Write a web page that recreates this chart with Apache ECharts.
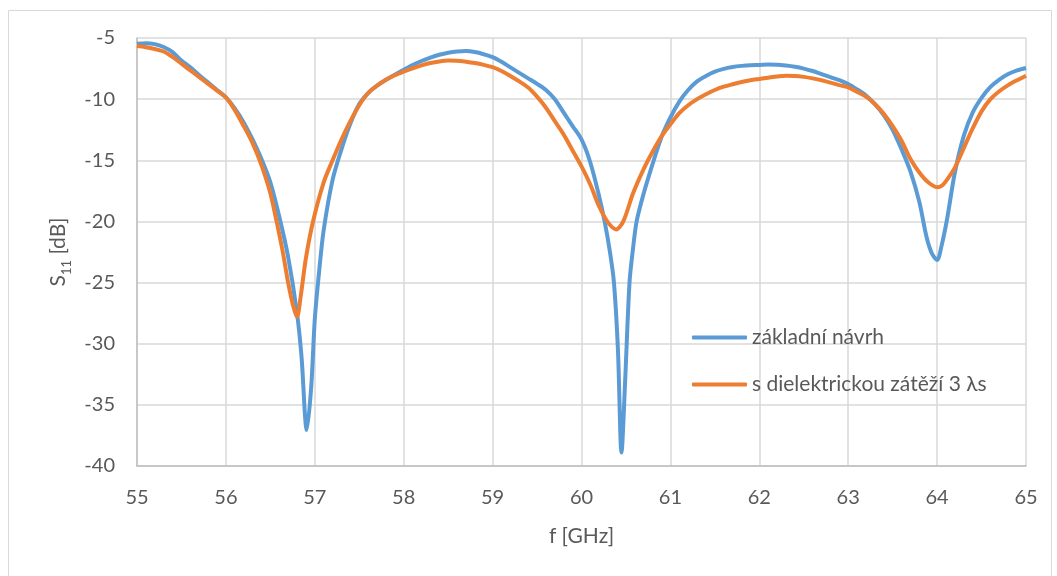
<!DOCTYPE html>
<html>
<head>
<meta charset="utf-8">
<script src="https://cdn.jsdelivr.net/npm/echarts@6/dist/echarts.min.js"></script>
<style>
  html, body { margin: 0; padding: 0; background: #ffffff; }
  #chart { width: 1057px; height: 576px; }
</style>
</head>
<body>
<div id="chart"></div>
<script>
// Frequency axis ticks (GHz) and S11 axis range (dB)
const freqTicks = [55, 56, 57, 58, 59, 60, 61, 62, 63, 64, 65];
const s11Range = { min: -40, max: -5, step: 5 };

// Series names
const seriesNames = ['základní návrh', 's dielektrickou zátěží 3 λs'];

// Basic design: frequency points (GHz) and S11 (dB)
const freqBase = [
  55.0, 55.1, 55.2, 55.3, 55.4, 55.5, 55.6, 55.7, 55.8, 55.9,
  56.0, 56.1, 56.2, 56.3, 56.4, 56.5, 56.6, 56.7, 56.8, 56.85, 56.91, 56.96,
  57.0, 57.05, 57.1, 57.2, 57.3, 57.4, 57.5, 57.6, 57.7, 57.8, 57.9,
  58.0, 58.1, 58.2, 58.3, 58.4, 58.5, 58.6, 58.7, 58.8, 58.9,
  59.0, 59.1, 59.2, 59.3, 59.4, 59.5, 59.6, 59.7, 59.8, 59.9,
  60.0, 60.1, 60.2, 60.26, 60.32, 60.365, 60.41, 60.45, 60.49, 60.54, 60.58, 60.62, 60.7, 60.8, 60.9,
  61.0, 61.1, 61.2, 61.3, 61.4, 61.5, 61.6, 61.7, 61.8, 61.9,
  62.0, 62.1, 62.2, 62.3, 62.4, 62.5, 62.6, 62.7, 62.8, 62.9,
  63.0, 63.1, 63.2, 63.3, 63.4, 63.5, 63.6, 63.7, 63.8, 63.88, 63.94,
  64.0, 64.05, 64.11, 64.2, 64.3, 64.4, 64.5, 64.6, 64.7, 64.8, 64.9, 65.0
];
const s11Base = [
  -5.47, -5.42, -5.5, -5.74, -6.15, -6.85, -7.4, -8.05, -8.65, -9.25,
  -9.86, -10.75, -11.9, -13.3, -14.9, -16.8, -19.6, -22.9, -27.5, -31.0, -37.05, -33.5,
  -28.0, -24.0, -20.7, -16.6, -14.1, -12.0, -10.4, -9.5, -8.9, -8.42, -8.0,
  -7.6, -7.22, -6.88, -6.6, -6.37, -6.2, -6.1, -6.07, -6.15, -6.33,
  -6.57, -6.95, -7.4, -7.85, -8.3, -8.75, -9.25, -10.0, -11.1, -12.2,
  -13.3, -15.2, -18.0, -20.0, -22.5, -25.0, -30.5, -38.9, -33.2, -25.0, -22.2, -20.0, -17.7, -15.3, -13.1,
  -11.5, -10.2, -9.25, -8.55, -8.1, -7.75, -7.52, -7.37, -7.28, -7.22,
  -7.2, -7.17, -7.18, -7.25, -7.35, -7.5, -7.7, -7.95, -8.2, -8.45,
  -8.76, -9.2, -9.7, -10.4, -11.3, -12.5, -14.1, -15.9, -18.4, -21.24, -22.6,
  -23.16, -22.0, -19.9, -16.0, -13.0, -11.1, -9.9, -9.0, -8.4, -7.95, -7.65, -7.45
];

// Design with dielectric load 3 λs
const freqLoad = [
  55.0, 55.1, 55.2, 55.3, 55.4, 55.5, 55.6, 55.7, 55.8, 55.9,
  56.0, 56.1, 56.2, 56.3, 56.4, 56.5, 56.57, 56.64, 56.7, 56.76, 56.8, 56.84, 56.9, 56.98,
  57.1, 57.2, 57.3, 57.4, 57.5, 57.6, 57.7, 57.8, 57.9,
  58.0, 58.1, 58.2, 58.3, 58.4, 58.5, 58.6, 58.7, 58.8, 58.9,
  59.0, 59.1, 59.2, 59.3, 59.4, 59.5, 59.6, 59.7, 59.8, 59.9,
  60.0, 60.1, 60.2, 60.3, 60.39, 60.47, 60.58, 60.7, 60.8, 60.9,
  61.0, 61.1, 61.2, 61.3, 61.4, 61.5, 61.6, 61.7, 61.8, 61.9,
  62.0, 62.1, 62.2, 62.3, 62.4, 62.5, 62.6, 62.7, 62.8, 62.9,
  63.0, 63.1, 63.2, 63.3, 63.4, 63.5, 63.6, 63.7, 63.8, 63.9,
  64.0, 64.05, 64.1, 64.2, 64.3, 64.4, 64.5, 64.6, 64.7, 64.8, 64.9, 65.0
];
const s11Load = [
  -5.66, -5.75, -5.9, -6.1, -6.55, -7.1, -7.65, -8.2, -8.75, -9.3,
  -9.86, -10.9, -12.2, -13.6, -15.4, -17.7, -20.0, -22.5, -25.0, -27.0, -27.8, -26.2, -23.0, -20.0,
  -16.8, -15.0, -13.3, -11.8, -10.5, -9.5, -8.9, -8.42, -8.05,
  -7.75, -7.48, -7.24, -7.05, -6.92, -6.85, -6.86, -6.94, -7.05, -7.2,
  -7.39, -7.7, -8.1, -8.55, -9.05, -9.8, -10.7, -11.8, -12.9, -14.2,
  -15.5, -17.0, -18.8, -20.1, -20.65, -20.0, -17.7, -15.7, -14.3, -13.05,
  -12.06, -11.15, -10.5, -10.0, -9.6, -9.25, -8.98, -8.78, -8.6, -8.45,
  -8.35, -8.25, -8.15, -8.08, -8.1, -8.18, -8.3, -8.45, -8.65, -8.85,
  -9.04, -9.4, -9.8, -10.4, -11.2, -12.2, -13.4, -14.9, -16.0, -16.8,
  -17.2, -17.1, -16.7, -15.6, -14.0, -12.4, -11.0, -10.0, -9.35, -8.85, -8.45, -8.08
];

const pairs = (xs, ys) => xs.map((x, i) => [x, ys[i]]);

const textColor = '#595959';
const fontFamily = 'Lato, "Liberation Sans", sans-serif';

const chart = echarts.init(document.getElementById('chart'), null, { renderer: 'canvas' });

chart.setOption({
  animation: false,
  backgroundColor: '#ffffff',
  graphic: [{
    type: 'rect',
    shape: { x: 8.5, y: 10.5, width: 1043, height: 570 },
    style: { fill: 'none', stroke: '#d9d9d9', lineWidth: 1 },
    silent: true
  }],
  grid: { left: 137, right: 31, top: 38, bottom: 110 },
  legend: {
    orient: 'vertical',
    left: 687,
    top: 322,
    icon: 'roundRect',
    itemWidth: 55,
    itemHeight: 4,
    itemGap: 26,
    textStyle: { color: textColor, fontSize: 21, lineHeight: 20, fontFamily: fontFamily },
    data: seriesNames
  },
  xAxis: {
    type: 'value',
    min: freqTicks[0],
    max: freqTicks[freqTicks.length - 1],
    interval: 1,
    name: 'f [GHz]',
    nameLocation: 'middle',
    nameGap: 60,
    nameTextStyle: { color: textColor, fontSize: 21, fontFamily: fontFamily },
    axisLine: { show: true, onZero: false, lineStyle: { color: '#bfbfbf', width: 1.5 } },
    axisTick: { show: false },
    axisLabel: { color: textColor, fontSize: 20, fontFamily: fontFamily, margin: 22 },
    splitLine: { show: true, lineStyle: { color: '#d9d9d9', width: 1.5 } }
  },
  yAxis: {
    type: 'value',
    min: s11Range.min,
    max: s11Range.max,
    interval: s11Range.step,
    name: '{s|S}{sub|11}{s| [dB]}',
    nameLocation: 'middle',
    nameRotate: 90,
    nameGap: 62,
    nameTextStyle: {
      color: textColor,
      fontFamily: fontFamily,
      rich: {
        s: { fontSize: 21, color: textColor, fontFamily: fontFamily, lineHeight: 30, verticalAlign: 'middle' },
        sub: { fontSize: 13, color: textColor, fontFamily: fontFamily, lineHeight: 30, verticalAlign: 'bottom' }
      }
    },
    axisLine: { show: true, onZero: false, lineStyle: { color: '#bfbfbf', width: 1.5 } },
    axisTick: { show: false },
    axisLabel: { color: textColor, fontSize: 20, fontFamily: fontFamily, margin: 22 },
    splitLine: { show: true, lineStyle: { color: '#d9d9d9', width: 1.5 } }
  },
  series: [
    {
      name: seriesNames[0],
      type: 'line',
      data: pairs(freqBase, s11Base),
      symbol: 'none',
      smooth: 0.3,
      lineStyle: { color: '#5B9BD5', width: 4 },
      itemStyle: { color: '#5B9BD5' }
    },
    {
      name: seriesNames[1],
      type: 'line',
      data: pairs(freqLoad, s11Load),
      symbol: 'none',
      smooth: 0.3,
      lineStyle: { color: '#ED7D31', width: 4 },
      itemStyle: { color: '#ED7D31' }
    }
  ]
});
</script>
</body>
</html>
